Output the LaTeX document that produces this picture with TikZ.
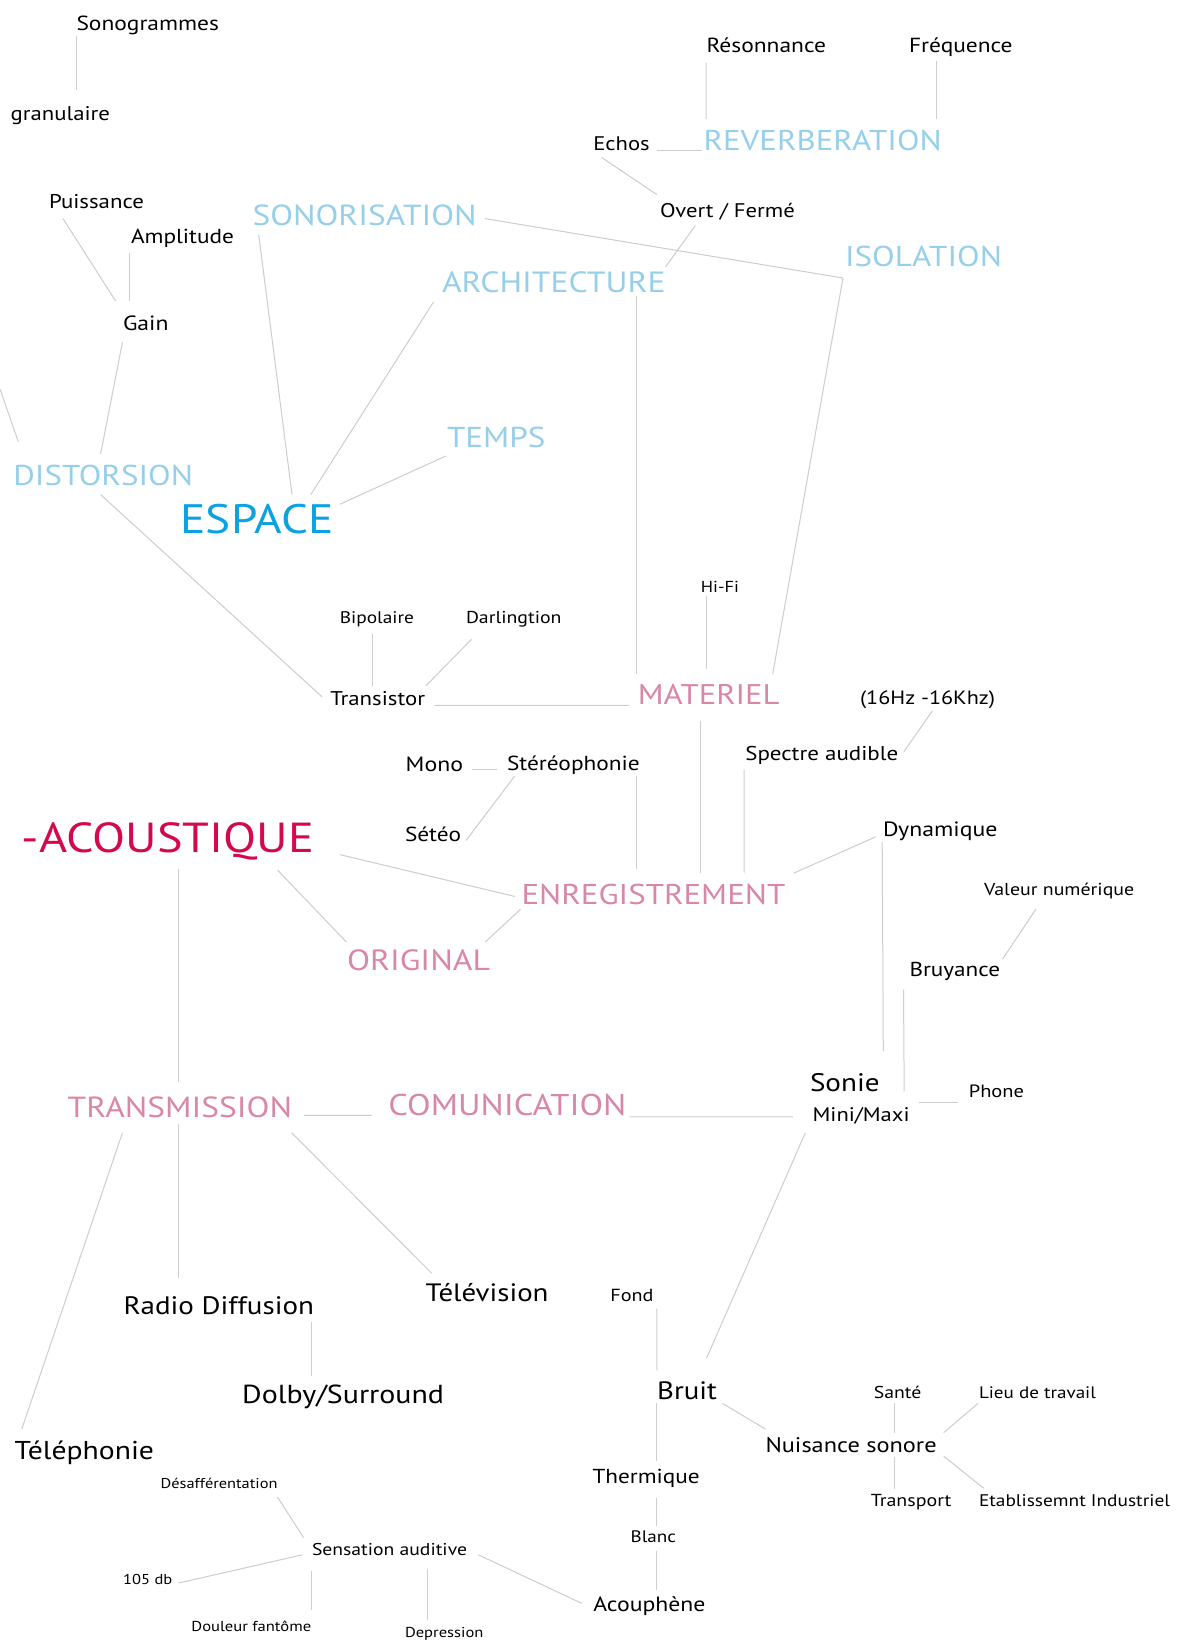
\documentclass[tikz,border=0pt]{standalone}
\usepackage{fontspec}
\setmainfont{PT Sans}[FakeStretch=1.15]
\newcommand\fitw[2]{\setbox0=\hbox{\fontsize{10}{12}\selectfont #2}\pgfmathsetmacro\fitsz{10*(#1+2)/\the\wd0}\fontsize{\fitsz}{\fitsz}\selectfont #2}
\definecolor{lblue}{RGB}{150,207,234}
\definecolor{sblue}{RGB}{10,162,224}
\definecolor{pinkc}{RGB}{217,135,168}
\definecolor{crim}{RGB}{212,8,79}
\definecolor{linkc}{RGB}{205,205,205}
\tikzset{
  txt/.style={inner sep=0pt, outer sep=0pt, anchor=base west, text=black},
  bluehead/.style={txt, text=lblue},
  pinkhead/.style={txt, text=pinkc},
  link/.style={draw=linkc, line width=1pt}
}
\newcommand\lk[4]{\draw[link] ([shift={#2}]#1.base west) -- ([shift={#4}]#3.base west);}
\begin{document}
\begin{tikzpicture}[x=1pt,y=-1pt]
\useasboundingbox[fill=white] (0,0) rectangle (1176,1652);
% black text
\node[txt] (sono) at (76.5,30.4) {\fitw{140.5}{Sonogrammes}};
\node[txt] (gran) at (10.7,120.5) {\fitw{97.3}{granulaire}};
\node[txt] (puis) at (49,208) {\fitw{93}{Puissance}};
\node[txt] (ampl) at (131,243) {\fitw{101}{Amplitude}};
\node[txt] (gain) at (123,330) {\fitw{43.5}{Gain}};
\node[txt] (reso) at (706.6,52.9) {\fitw{117.4}{Résonnance}};
\node[txt] (freq) at (909,52.9) {\fitw{101.6}{Fréquence}};
\node[txt] (echos) at (593.3,150) {\fitw{54.4}{Echos}};
\node[txt] (overt) at (660.2,217.9) {\fitw{132.6}{Overt / Fermé}};
\node[txt] (bip) at (339.8,623.6) {\fitw{72.2}{Bipolaire}};
\node[txt] (darl) at (466,623.6) {\fitw{93.5}{Darlingtion}};
\node[txt] (trans) at (330.3,705.7) {\fitw{92.7}{Transistor}};
\node[txt] (mono) at (405.7,771.8) {\fitw{55.3}{Mono}};
\node[txt] (stereo) at (507,770.7) {\fitw{130.8}{Stéréophonie}};
\node[txt] (seteo) at (405,841) {\fitw{54}{Sétéo}};
\node[txt] (hifi) at (700.9,592.1) {\fitw{36.1}{Hi-Fi}};
\node[txt] (hz) at (860,704.6) {\fitw{133}{(16Hz -16Khz)}};
\node[txt] (spectre) at (745.3,760) {\fitw{150.9}{Spectre audible}};
\node[txt] (dyn) at (883,836.8) {\fitw{112.4}{Dynamique}};
\node[txt] (valeur) at (984,895.7) {\fitw{148.3}{Valeur numérique}};
\node[txt] (bruy) at (909.5,976) {\fitw{88.5}{Bruyance}};
\node[txt] (sonie) at (810,1091.4) {\fitw{67.6}{Sonie}};
\node[txt] (phone) at (968.8,1097.5) {\fitw{53.2}{Phone}};
\node[txt] (mini) at (812.6,1121.8) {\fitw{95}{Mini/Maxi}};
\node[txt] (radio) at (123.6,1314) {\fitw{188.4}{Radio Diffusion}};
\node[txt] (tele) at (425.6,1301.3) {\fitw{120.9}{Télévision}};
\node[txt] (dolby) at (242.2,1403.4) {\fitw{199.8}{Dolby/Surround}};
\node[txt] (telep) at (14.5,1459.7) {\fitw{137.5}{Téléphonie}};
\node[txt] (desaff) at (160.7,1488) {\fitw{114.8}{Désafférentation}};
\node[txt] (sens) at (312,1555) {\fitw{153}{Sensation auditive}};
\node[txt] (db) at (123.2,1584) {\fitw{47.1}{105 db}};
\node[txt] (douleur) at (191.4,1631.5) {\fitw{117.8}{Douleur fantôme}};
\node[txt] (depr) at (405,1637.8) {\fitw{76.4}{Depression}};
\node[txt] (fond) at (610.4,1301.3) {\fitw{41.1}{Fond}};
\node[txt] (bruit) at (657.2,1399.2) {\fitw{57.8}{Bruit}};
\node[txt] (nuis) at (765.5,1452) {\fitw{169.1}{Nuisance sonore}};
\node[txt] (sante) at (873.8,1398) {\fitw{45.6}{Santé}};
\node[txt] (lieu) at (979,1398) {\fitw{114.9}{Lieu de travail}};
\node[txt] (transp) at (870.8,1506.5) {\fitw{78.6}{Transport}};
\node[txt] (etab) at (979,1506.5) {\fitw{189}{Etablissemnt Industriel}};
\node[txt] (therm) at (592.5,1483.7) {\fitw{105.3}{Thermique}};
\node[txt] (blanc) at (630.6,1542.8) {\fitw{43.3}{Blanc}};
\node[txt] (acou) at (593.3,1611) {\fitw{110.2}{Acouphène}};
% headings
\node[bluehead] (dist) at (13.4,485) {\fitw{177.6}{DISTORSION}};
\node[bluehead] (sonor) at (252.6,225.7) {\fitw{222}{SONORISATION}};
\node[bluehead] (arch) at (442,292) {\fitw{221.6}{ARCHITECTURE}};
\node[bluehead] (temps) at (447,447) {\fitw{96.4}{TEMPS}};
\node[txt,text=sblue] (espace) at (180.6,533) {\fitw{150.8}{ESPACE}};
\node[bluehead] (reverb) at (703.5,150) {\fitw{236.1}{REVERBERATION}};
\node[bluehead] (isol) at (845,266.8) {\fitw{155}{ISOLATION}};
\node[pinkhead] (mat) at (637.8,704.6) {\fitw{139.8}{MATERIEL}};
\node[pinkhead] (enreg) at (521.6,904) {\fitw{261.7}{ENREGISTREMENT}};
\node[pinkhead] (orig) at (347,970) {\fitw{141}{ORIGINAL}};
\node[txt,text=crim] (acoust) at (21.8,852.9) {\fitw{290.2}{-ACOUSTIQUE}};
\node[pinkhead] (transm) at (67.7,1117.6) {\fitw{222.3}{TRANSMISSION}};
\node[pinkhead] (comun) at (388.4,1115) {\fitw{236}{COMUNICATION}};
\coordinate (edge) at (0,389);
% connectors
\lk{sono}{(0,5.3)}{gran}{(65.8,-30.1)}
\lk{puis}{(14,10.6)}{gain}{(-7.4,-29)}
\lk{ampl}{(-1.6,10)}{gain}{(6.4,-29)}
\lk{gain}{(-0.5,12)}{dist}{(87.2,-31)}
\draw[link] (edge) -- ([shift={(5,-43)}]dist.base west);
\lk{sonor}{(6.1,8.9)}{espace}{(111.4,-38.4)}
\lk{arch}{(-8.4,9.8)}{espace}{(130.2,-38.4)}
\lk{temps}{(-1.2,9)}{espace}{(159.2,-28.7)}
\lk{sonor}{(232.4,-7.1)}{isol}{(-2,11.2)}
\lk{isol}{(-2,11.2)}{mat}{(134.9,-30.6)}
\lk{dist}{(87.2,9.6)}{trans}{(-8.3,-8.9)}
\lk{reso}{(-0.4,9.6)}{reverb}{(2.7,-31)}
\lk{freq}{(27.5,8.5)}{reverb}{(233,-31)}
\lk{echos}{(63.5,0.4)}{reverb}{(-1.1,0.4)}
\lk{echos}{(8.4,7.5)}{overt}{(-3.4,-23.3)}
\lk{overt}{(35,7.8)}{arch}{(223.5,-25)}
\lk{arch}{(194.3,3.7)}{mat}{(-1.5,-30.6)}
\lk{bip}{(32.6,10.7)}{trans}{(42.1,-20)}
\lk{darl}{(5.5,15.7)}{trans}{(95.7,-20)}
\lk{trans}{(104.1,-0.3)}{mat}{(-8.4,0.8)}
\lk{mono}{(66.2,-2.5)}{stereo}{(-10.3,-1.4)}
\lk{seteo}{(61.1,-0.6)}{stereo}{(7.7,5.3)}
\lk{acoust}{(318,1.7)}{enreg}{(-6.9,-7.6)}
\lk{acoust}{(255.7,17.1)}{orig}{(-0.7,-28)}
\lk{enreg}{(-1.1,5.3)}{orig}{(138.3,-28)}
\lk{acoust}{(156.5,16.4)}{transm}{(110.6,-35.6)}
\lk{transm}{(236.5,-2.2)}{comun}{(-16.4,0.4)}
\lk{hifi}{(5.3,3.6)}{mat}{(68.4,-35.6)}
\lk{hz}{(72.3,6.4)}{spectre}{(158.5,-8.2)}
\lk{mat}{(62.7,16.1)}{enreg}{(178.9,-31.5)}
\lk{stereo}{(129.3,5.3)}{enreg}{(114.7,-35)}
\lk{spectre}{(-1.1,10)}{enreg}{(222.6,-31.5)}
\lk{enreg}{(272,-30.8)}{dyn}{(-7.3,0)}
\lk{dyn}{(-0.8,5.2)}{sonie}{(73.3,-40.4)}
\lk{valeur}{(52,13.3)}{bruy}{(93.1,-17)}
\lk{bruy}{(-6,13.6)}{mini}{(91.6,-30.4)}
\lk{mini}{(106.4,-19.8)}{phone}{(-10.8,4.5)}
\lk{comun}{(241,1.9)}{mini}{(-19.8,-4.9)}
\lk{transm}{(54.8,15.1)}{telep}{(7.3,-30.7)}
\lk{transm}{(110.6,6.4)}{radio}{(54.7,-36.2)}
\lk{transm}{(223.9,15.1)}{tele}{(6.1,-28.1)}
\lk{radio}{(187.4,7.8)}{dolby}{(68.8,-27.1)}
\lk{desaff}{(116.8,9)}{sens}{(-8.5,-17.5)}
\lk{db}{(55.5,-1)}{sens}{(-9.7,-0.2)}
\lk{sens}{(-1,15.6)}{douleur}{(119.6,-21.1)}
\lk{sens}{(115.5,14)}{depr}{(22.5,-17.8)}
\lk{sens}{(166.4,-0.2)}{acou}{(-11.6,-7.7)}
\lk{mini}{(-7.2,10.9)}{bruit}{(49.4,-41.2)}
\lk{fond}{(46.4,7.4)}{bruit}{(-0.4,-28.9)}
\lk{bruit}{(65.3,4.2)}{nuis}{(0,-22.9)}
\lk{bruit}{(-0.4,4.2)}{therm}{(64.3,-22.9)}
\lk{sante}{(20.5,5.4)}{nuis}{(128.8,-19.4)}
\lk{lieu}{(-1,5.4)}{nuis}{(178.2,-19.4)}
\lk{nuis}{(128.8,5.3)}{transp}{(23.5,-17.5)}
\lk{nuis}{(178.2,4.2)}{etab}{(4.6,-18.3)}
\lk{therm}{(64.3,14)}{blanc}{(26.2,-16.8)}
\lk{blanc}{(26.2,7.7)}{acou}{(63.5,-21)}
\end{tikzpicture}
\end{document}
